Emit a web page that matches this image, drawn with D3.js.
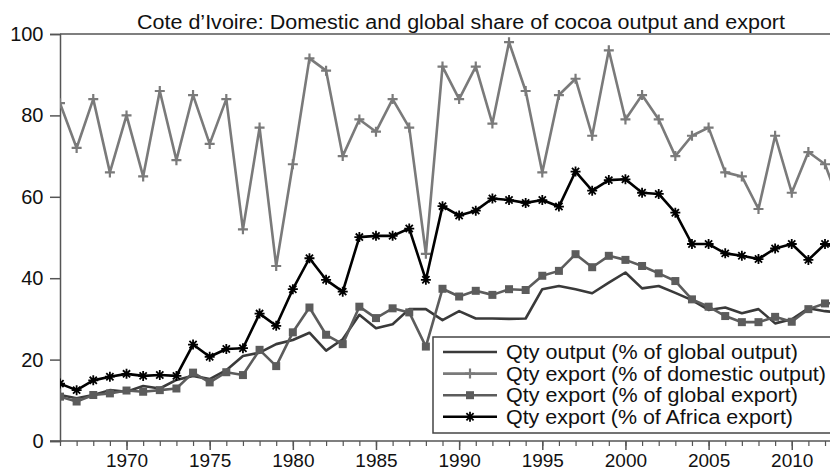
<!DOCTYPE html>
<html lang="en">
<head>
  <meta charset="UTF-8">
  <title>Cote d'Ivoire cocoa shares</title>
  <style>
    body { margin: 0; background: #fff; }
    svg { display: block; font-family: "Liberation Sans", Arial, sans-serif; }
    .tick-label { font-size: 20px; fill: #111; }
    .x-label { font-size: 19px; fill: #111; }
    .legend-text { font-size: 20px; fill: #111; }
  </style>
  <script src="https://d3js.org/d3.v7.min.js"></script>
</head>
<body>
  <div id="chart"></div>
  <script>
    // -----------------------------
    // Data
    // -----------------------------
    const years = d3.range(1966, 2014);

    const qtyOutputGlobal = [
      11.3, 10.5, 11.3, 12.5, 12.1, 13.5, 12.9, 15.0, 16.0, 15.2,
      17.4, 20.9, 21.7, 23.8, 24.8, 26.6, 22.2, 25.0, 31.0, 27.7,
      28.7, 32.4, 32.4, 29.7, 31.9, 30.1, 30.1, 30.0, 30.1, 37.3,
      38.1, 37.3, 36.3, 38.9, 41.4, 37.5, 38.1, 36.4, 34.6, 32.2,
      32.8, 31.4, 32.4, 28.9, 29.9, 32.6, 31.9, 31.5
    ];

    const qtyExportDomestic = [
      83, 72, 84, 66, 80, 65, 86, 69, 85, 73,
      84, 52, 77, 43, 68, 94, 91, 70, 79, 76,
      84, 77, 46, 92, 84, 92, 78, 98, 86, 66,
      85, 89, 75, 96, 79, 85, 79, 70, 75, 77,
      66, 65, 57, 75, 61, 71, 68, 57
    ];

    const qtyExportGlobal = [
      10.9, 9.7, 11.3, 11.7, 12.4, 12.1, 12.5, 12.9, 16.8, 14.4,
      16.9, 16.2, 22.4, 18.4, 26.7, 32.8, 26.1, 23.8, 33.0, 30.2,
      32.6, 31.6, 23.2, 37.4, 35.5, 36.9, 35.9, 37.3, 37.1, 40.6,
      41.8, 45.9, 42.7, 45.5, 44.5, 43.0, 41.2, 39.3, 34.8, 33.0,
      30.7, 29.2, 29.2, 30.5, 29.3, 32.4, 33.8, 34.0
    ];

    const qtyExportAfrica = [
      14.1, 12.5, 14.9, 15.8, 16.5, 16.0, 16.2, 16.0, 23.7, 20.7,
      22.6, 22.8, 31.3, 28.3, 37.3, 44.9, 39.6, 36.7, 50.1, 50.4,
      50.4, 52.2, 39.6, 57.7, 55.4, 56.6, 59.6, 59.2, 58.5, 59.2,
      57.6, 66.2, 61.5, 64.1, 64.3, 61.0, 60.7, 56.1, 48.4, 48.4,
      46.1, 45.5, 44.7, 47.3, 48.4, 44.5, 48.4, 47.0
    ];

    const yTicks = [0, 20, 40, 60, 80, 100];
    const xMajorTicks = [1970, 1975, 1980, 1985, 1990, 1995, 2000, 2005, 2010];

    const titleText = "Cote d\u2019Ivoire: Domestic and global share of cocoa output and export";

    const seriesNames = [
      "Qty output (% of global output)",
      "Qty export (% of domestic output)",
      "Qty export (% of global export)",
      "Qty export (% of Africa export)"
    ];

    // -----------------------------
    // Setup
    // -----------------------------
    const width = 830;
    const height = 471;
    const plot = { left: 60, right: 830, top: 34, bottom: 441 };

    const svg = d3.select("#chart").append("svg")
      .attr("width", width)
      .attr("height", height);

    const x = d3.scaleLinear().domain([1966, 2012.3]).range([plot.left, plot.right]);
    const y = d3.scaleLinear().domain([0, 100]).range([plot.bottom, plot.top]);

    svg.append("defs").append("clipPath").attr("id", "plot-clip")
      .append("rect")
      .attr("x", plot.left).attr("y", 0)
      .attr("width", plot.right - plot.left).attr("height", height);

    // Title (the original's lettering is a little wider than Arial)
    svg.append("text")
      .attr("x", 137)
      .attr("y", 29)
      .attr("textLength", 648)
      .attr("lengthAdjust", "spacingAndGlyphs")
      .style("font-size", "20px")
      .style("fill", "#111")
      .text(titleText);

    // Frame: top border
    svg.append("line")
      .attr("x1", plot.left).attr("x2", plot.right)
      .attr("y1", plot.top).attr("y2", plot.top)
      .attr("stroke", "#555").attr("stroke-width", 1.5);

    // Y axis
    const yAxis = d3.axisLeft(y).tickValues(yTicks).tickSize(10).tickPadding(6.5);
    const yg = svg.append("g").attr("transform", `translate(${plot.left},0)`).call(yAxis);
    yg.select(".domain").attr("stroke", "#555").attr("stroke-width", 1.5);
    yg.selectAll(".tick line").attr("stroke", "#555").attr("stroke-width", 1.5);
    yg.selectAll(".tick text").attr("class", "tick-label").attr("font-family", null).attr("font-size", null);

    // X axis (minor yearly ticks + major every 5 years)
    const xg = svg.append("g").attr("transform", `translate(0,${plot.bottom})`);
    xg.append("line")
      .attr("x1", plot.left - 10).attr("x2", plot.right)
      .attr("stroke", "#555").attr("stroke-width", 1.5);
    const minorAxis = d3.axisBottom(x).tickValues(d3.range(1966, 2013)).tickSize(5).tickFormat("");
    const mg = xg.append("g").call(minorAxis);
    mg.select(".domain").remove();
    mg.selectAll(".tick line").attr("stroke", "#555").attr("stroke-width", 1.2);
    const majorAxis = d3.axisBottom(x).tickValues(xMajorTicks).tickSize(9).tickPadding(3.5).tickFormat(d3.format("d"));
    const jg = xg.append("g").call(majorAxis);
    jg.select(".domain").remove();
    jg.selectAll(".tick line").attr("stroke", "#555").attr("stroke-width", 1.5);
    jg.selectAll(".tick text").attr("class", "x-label").attr("font-family", null).attr("font-size", null);

    // -----------------------------
    // Series
    // -----------------------------
    const series = [
      { name: seriesNames[0], values: qtyOutputGlobal, color: "#3a3a3a", marker: "none", textW: 292 },
      { name: seriesNames[1], values: qtyExportDomestic, color: "#7a7a7a", marker: "plus", textW: 320 },
      { name: seriesNames[2], values: qtyExportGlobal, color: "#5c5c5c", marker: "square", textW: 292 },
      { name: seriesNames[3], values: qtyExportAfrica, color: "#000000", marker: "star", textW: 287 }
    ];

    const line = d3.line()
      .x(d => x(d.year))
      .y(d => y(d.value));

    function drawMarker(sel, type, color) {
      if (type === "square") {
        sel.append("rect")
          .attr("x", -4).attr("y", -4).attr("width", 8).attr("height", 8)
          .attr("fill", color);
      } else if (type === "plus") {
        sel.append("path")
          .attr("d", "M-5,0H5M0,-5V5")
          .attr("stroke", color).attr("stroke-width", 2.2);
      } else if (type === "star") {
        sel.append("path")
          .attr("d", "M-5,0H5M0,-5V5M-3.6,-3.6L3.6,3.6M-3.6,3.6L3.6,-3.6")
          .attr("stroke", color).attr("stroke-width", 1.8);
      }
    }

    const plotG = svg.append("g").attr("clip-path", "url(#plot-clip)");

    series.forEach(s => {
      const pts = years.map((yr, i) => ({ year: yr, value: s.values[i] }));
      const g = plotG.append("g");
      g.append("path")
        .datum(pts)
        .attr("d", line)
        .attr("fill", "none")
        .attr("stroke", s.color)
        .attr("stroke-width", 2.6)
        .attr("stroke-linejoin", "round");
      if (s.marker !== "none") {
        g.selectAll("g.mk")
          .data(pts)
          .enter().append("g")
          .attr("class", "mk")
          .attr("transform", d => `translate(${x(d.year)},${y(d.value)})`)
          .each(function () { drawMarker(d3.select(this), s.marker, s.color); });
      }
    });

    // -----------------------------
    // Legend
    // -----------------------------
    const legend = svg.append("g").attr("transform", "translate(433,337)");
    legend.append("rect")
      .attr("x", 0).attr("y", 0).attr("width", 410).attr("height", 96)
      .attr("fill", "#fff").attr("stroke", "#444").attr("stroke-width", 1.5);

    series.forEach((s, i) => {
      const cy = 15 + i * 21.6;
      const row = legend.append("g").attr("transform", `translate(0,${cy})`);
      row.append("line")
        .attr("x1", 10).attr("x2", 64)
        .attr("stroke", s.color).attr("stroke-width", 2.6);
      if (s.marker !== "none") {
        const m = row.append("g").attr("transform", "translate(37,0)");
        drawMarker(m, s.marker, s.color);
      }
      row.append("text")
        .attr("class", "legend-text")
        .attr("x", 73)
        .attr("y", 7)
        .attr("textLength", s.textW)
        .attr("lengthAdjust", "spacingAndGlyphs")
        .text(s.name);
    });
  </script>
</body>
</html>
